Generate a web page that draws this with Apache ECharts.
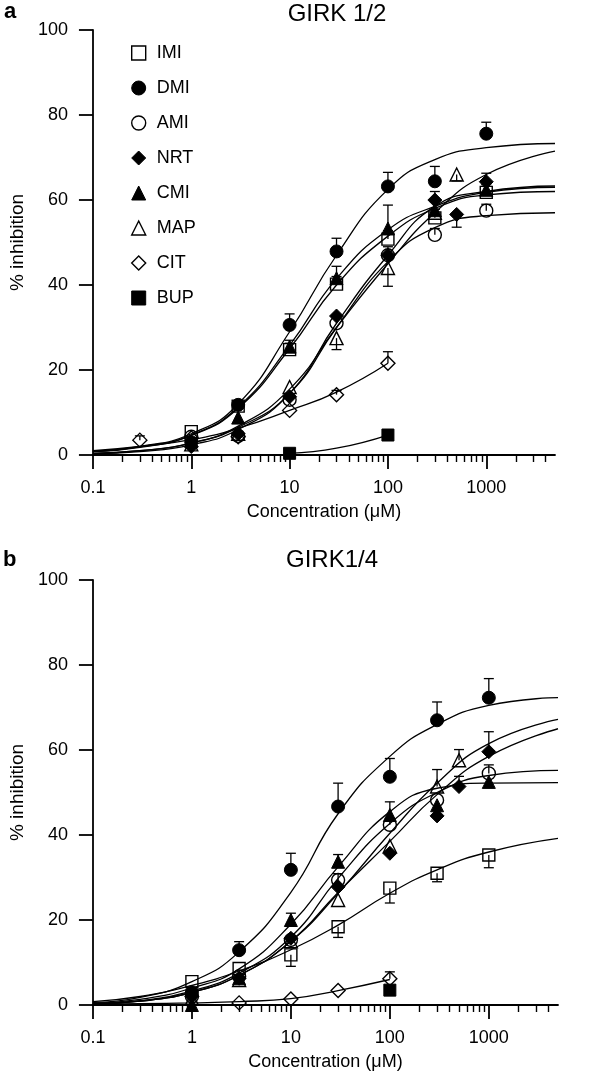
<!DOCTYPE html>
<html>
<head>
<meta charset="utf-8">
<script src="https://cdn.jsdelivr.net/npm/echarts@6/dist/echarts.min.js"></script>
<style>
html,body{margin:0;padding:0;background:#fff;}
#chart{width:600px;height:1077px;}
</style>
</head>
<body>
<div id="chart"></div>
<script>
// ---------- categories / ticks ----------
const DRUGS = ['IMI','DMI','AMI','NRT','CMI','MAP','CIT','BUP'];
const X_TICKS = [0.1, 1, 10, 100, 1000];
const X_MINOR_TICKS = [0.2,0.3,0.4,0.5,0.6,0.7,0.8,0.9,2,3,4,5,6,7,8,9,20,30,40,50,60,70,80,90,200,300,400,500,600,700,800,900,2000,3000,4000];
const PANEL_TITLES = ['GIRK 1/2', 'GIRK1/4'];
const PANEL_LETTERS = ['a', 'b'];

// ---------- measured points: [concentration µM, % inhibition, error (signed, + = up)] ----------
// Panel a : GIRK 1/2
const A_IMI = [[1,5.5,0],[3,11.5,0],[10,24.8,1.5],[30,40.2,1.8],[100,50.8,2],[300,55.8,2],[1000,61.8,1.8]];
const A_DMI = [[1,3,0],[3,11.8,0],[10,30.6,2.6],[30,47.9,3.1],[100,63.2,3.3],[300,64.4,3.5],[1000,75.6,2.7]];
const A_AMI = [[1,4.3,0],[3,4.5,0],[10,13,0],[30,31,0],[100,47,0],[300,51.8,1.5],[1000,57.5,1.5]];
const A_NRT = [[1,2,0],[3,5,0],[10,13.7,0],[30,32.7,0],[100,47,2],[300,60,2],[500,56.6,-3],[1000,64.3,2]];
const A_CMI = [[1,3.3,0],[3,8.8,0],[10,25.5,1.5],[30,41.6,2.8],[100,53.3,5.5],[300,57.6,2],[1000,62.4,2]];
const A_MAP = [[1,2.5,0],[3,5,0],[10,16,0],[30,27.5,-2.7],[100,44,-4.3],[300,57,0],[500,66,-1.5]];
const A_CIT = [[0.3,3.5,1],[1,4,0],[3,4.3,0],[10,10.5,0],[30,14.2,1],[100,21.6,2.7]];
const A_BUP = [[10,0.4,0],[100,4.7,0]];
// Panel b : GIRK1/4
const B_IMI = [[1,5.5,0],[3,8.6,0],[10,11.8,-2.7],[30,18.4,-2.5],[100,27.5,-3.5],[300,31,-2],[1000,35.3,-3]];
const B_DMI = [[1,3,0],[3,12.9,2],[10,31.8,3.9],[30,46.7,5.5],[100,53.7,4.3],[300,67,4.3],[1000,72.3,4.5]];
const B_AMI = [[1,2,0],[3,6.7,0],[10,15.3,0],[30,29.4,1.5],[100,42.4,1.5],[300,48.2,0],[1000,54.5,2]];
const B_NRT = [[1,2,0],[3,6.3,0],[10,15.7,0],[30,27.8,0],[100,35.7,0],[300,44.5,0],[500,51.4,2.4],[1000,59.6,4.7]];
const B_CMI = [[1,0,0],[3,6.3,0],[10,20,1.6],[30,33.7,1.7],[100,44.7,3.1],[300,47,0],[1000,52.5,0]];
const B_MAP = [[1,1.5,0],[3,5.9,0],[10,15,0],[30,24.7,0],[100,37.4,0],[300,51.4,4],[500,57.6,2.5]];
const B_CIT = [[3,0.5,0],[10,1.4,0],[30,3.4,0],[100,6.2,1.6]];
const B_BUP = [[100,3.5,0]];

// ---------- fitted curves at these concentrations ----------
const FIT_X = [0.1, 0.3, 1, 3, 10, 30, 100, 300, 1000, 5000];
const FIT_X_CIT = [0.1, 0.3, 1, 3, 10, 30, 100];
const FIT_X_BUP = [10, 30, 100];
const FIT_A_IMI = [0.8, 1.8, 4.6, 11.0, 25.0, 40.0, 51.5, 58.0, 61.2, 62.0];
const FIT_A_DMI = [0.9, 2.0, 5.0, 12.0, 29.0, 47.0, 62.5, 69.5, 72.3, 73.3];
const FIT_A_AMI = [0.4, 1.0, 2.8, 6.5, 14.5, 30.0, 45.5, 53.5, 56.3, 57.0];
const FIT_A_NRT = [0.3, 0.8, 2.4, 6.0, 14.5, 31.0, 47.0, 58.5, 62.0, 63.3];
const FIT_A_CMI = [0.8, 1.9, 4.7, 11.3, 25.8, 41.5, 53.0, 58.5, 61.8, 63.0];
const FIT_A_MAP = [0.4, 1.0, 2.8, 6.8, 15.5, 30.0, 45.0, 57.0, 66.0, 71.5];
const FIT_A_CIT = [1.0, 2.0, 3.6, 6.3, 10.5, 14.8, 21.6];
const FIT_A_BUP = [0.4, 1.6, 4.7];
const FIT_B_IMI = [0.8, 2.0, 4.6, 8.0, 13.0, 18.8, 26.3, 31.8, 36.0, 39.2];
const FIT_B_DMI = [0.6, 1.8, 5.5, 12.5, 26.5, 45.0, 58.5, 66.0, 70.5, 72.3];
const FIT_B_AMI = [0.3, 1.0, 3.3, 7.5, 16.0, 29.8, 42.7, 50.0, 54.0, 55.2];
const FIT_B_NRT = [0.3, 0.9, 3.0, 7.0, 15.0, 26.5, 38.5, 49.5, 58.5, 65.0];
const FIT_B_CMI = [0.4, 1.3, 4.0, 8.5, 19.0, 32.5, 45.5, 51.0, 52.2, 52.3];
const FIT_B_MAP = [0.3, 0.9, 3.0, 7.0, 15.0, 26.3, 40.4, 52.2, 61.5, 67.2];
const FIT_B_CIT = [0.2, 0.3, 0.5, 0.8, 1.5, 3.4, 6.0];

// ---------- styling ----------
const FONT = "'Liberation Sans', Arial, Helvetica, sans-serif";
const SYMBOL = {IMI:'rect', DMI:'circle', AMI:'circle', NRT:'diamond', CMI:'triangle', MAP:'triangle', CIT:'diamond', BUP:'rect'};
const FILLED = {IMI:false, DMI:true, AMI:false, NRT:true, CMI:true, MAP:false, CIT:false, BUP:true};
const SIZE = {rect:12, circle:13, diamond:14, triangle:13};

const POINTS = [
  {IMI:A_IMI, DMI:A_DMI, AMI:A_AMI, NRT:A_NRT, CMI:A_CMI, MAP:A_MAP, CIT:A_CIT, BUP:A_BUP},
  {IMI:B_IMI, DMI:B_DMI, AMI:B_AMI, NRT:B_NRT, CMI:B_CMI, MAP:B_MAP, CIT:B_CIT, BUP:B_BUP}
];
const FITS = [
  [[FIT_X,FIT_A_IMI],[FIT_X,FIT_A_DMI],[FIT_X,FIT_A_AMI],[FIT_X,FIT_A_NRT],[FIT_X,FIT_A_CMI],[FIT_X,FIT_A_MAP],[FIT_X_CIT,FIT_A_CIT],[FIT_X_BUP,FIT_A_BUP]],
  [[FIT_X,FIT_B_IMI],[FIT_X,FIT_B_DMI],[FIT_X,FIT_B_AMI],[FIT_X,FIT_B_NRT],[FIT_X,FIT_B_CMI],[FIT_X,FIT_B_MAP],[FIT_X_CIT,FIT_B_CIT]]
];

const GRIDS = [
  {left:91, top:30, width:464, height:425},
  {left:92, top:580, width:466, height:425}
];

function itemStyleFor(d){
  return FILLED[d]
    ? {color:'#000', borderColor:'#000', borderWidth:1, opacity:1}
    : {color:'rgba(255,255,255,0)', borderColor:'#000', borderWidth:1.4, opacity:1};
}

const xAxes = [], yAxes = [], series = [];
GRIDS.forEach((g, gi) => {
  xAxes.push({
    gridIndex: gi, type:'log', logBase:10, min:0.1, max:5000, position:'bottom',
    name:'Concentration (μM)', nameLocation:'middle', nameGap:48,
    nameTextStyle:{fontFamily:FONT, fontSize:18, color:'#000'},
    axisLine:{show:true, lineStyle:{color:'#000', width:1.8}},
    axisTick:{show:true, length:14, customValues:X_TICKS, lineStyle:{color:'#000', width:1.8}},
    axisLabel:{show:true, customValues:X_TICKS, margin:24, fontFamily:FONT, fontSize:18, color:'#000',
      formatter: v => (v < 1 ? Number(v).toFixed(1) : String(Math.round(v)))},
    splitLine:{show:false}, minorTick:{show:false}
  });
  xAxes.push({
    gridIndex: gi, type:'log', logBase:10, min:0.1, max:5000, position:'bottom', offset:0,
    axisLine:{show:false},
    axisTick:{show:true, length:7, customValues:X_MINOR_TICKS, lineStyle:{color:'#000', width:1.4}},
    axisLabel:{show:false}, splitLine:{show:false}
  });
  yAxes.push({
    gridIndex: gi, type:'value', min:0, max:100, interval:20,
    name:'% inhibition', nameLocation:'middle', nameGap:64, nameRotate:90,
    nameTextStyle:{fontFamily:FONT, fontSize:19, color:'#000'},
    axisLine:{show:true, lineStyle:{color:'#000', width:1.8}},
    axisTick:{show:true, length:14, lineStyle:{color:'#000', width:1.8}},
    axisLabel:{margin:25, fontFamily:FONT, fontSize:18, color:'#000'},
    splitLine:{show:false}
  });

  const xi = gi * 2;
  // fitted curves
  FITS[gi].forEach((f, k) => {
    const xs = f[0], ys = f[1];
    series.push({
      name: 'fit-' + gi + '-' + DRUGS[k], type:'line', xAxisIndex:xi, yAxisIndex:gi,
      data: xs.map((x, i) => [x, ys[i]]),
      smooth:0.5, symbol:'none', silent:true, z:1,
      lineStyle:{color:'#000', width:1.3}
    });
  });
  // error bars
  DRUGS.forEach(d => {
    series.push({
      name: 'err-' + gi + '-' + d, type:'custom', xAxisIndex:xi, yAxisIndex:gi,
      data: POINTS[gi][d], encode:{x:0, y:1}, silent:true, z:2,
      renderItem: (params, api) => {
        const e = api.value(2);
        if (!e) return null;
        const x = api.value(0), y = api.value(1);
        const p0 = api.coord([x, y]);
        const p1 = api.coord([x, y + e]);
        const st = {stroke:'#000', lineWidth:1.3};
        return {type:'group', children:[
          {type:'line', shape:{x1:p0[0], y1:p0[1], x2:p1[0], y2:p1[1]}, style:st},
          {type:'line', shape:{x1:p1[0]-5, y1:p1[1], x2:p1[0]+5, y2:p1[1]}, style:st}
        ]};
      }
    });
  });
  // markers
  DRUGS.forEach(d => {
    series.push({
      name: d, type:'scatter', xAxisIndex:xi, yAxisIndex:gi,
      data: POINTS[gi][d].map(p => [p[0], p[1]]),
      symbol: SYMBOL[d], symbolSize: SIZE[SYMBOL[d]], z:3,
      itemStyle: itemStyleFor(d)
    });
  });
});

const option = {
  animation:false,
  backgroundColor:'#fff',
  textStyle:{fontFamily:FONT},
  title: [
    {text:PANEL_TITLES[0], left:337, top:2, textAlign:'center', padding:0,
     textStyle:{fontFamily:FONT, fontSize:24, fontWeight:'normal', color:'#000'}},
    {text:PANEL_TITLES[1], left:332, top:548, textAlign:'center', padding:0,
     textStyle:{fontFamily:FONT, fontSize:24, fontWeight:'normal', color:'#000'}},
    {text:PANEL_LETTERS[0], left:4, top:1, padding:0,
     textStyle:{fontFamily:FONT, fontSize:22, fontWeight:'bold', color:'#000'}},
    {text:PANEL_LETTERS[1], left:3, top:549, padding:0,
     textStyle:{fontFamily:FONT, fontSize:22, fontWeight:'bold', color:'#000'}}
  ],
  legend: {
    orient:'vertical', left:126, top:39, itemWidth:14, itemHeight:14, itemGap:17,
    selectedMode:false,
    textStyle:{fontFamily:FONT, fontSize:18, color:'#000', padding:[0,0,0,6]},
    data: DRUGS.map(d => ({
      name:d, icon:SYMBOL[d],
      itemStyle: itemStyleFor(d)
    }))
  },
  grid: GRIDS,
  xAxis: xAxes,
  yAxis: yAxes,
  series: series
};

const chart = echarts.init(document.getElementById('chart'), null, {renderer:'canvas'});
chart.setOption(option);
</script>
</body>
</html>
